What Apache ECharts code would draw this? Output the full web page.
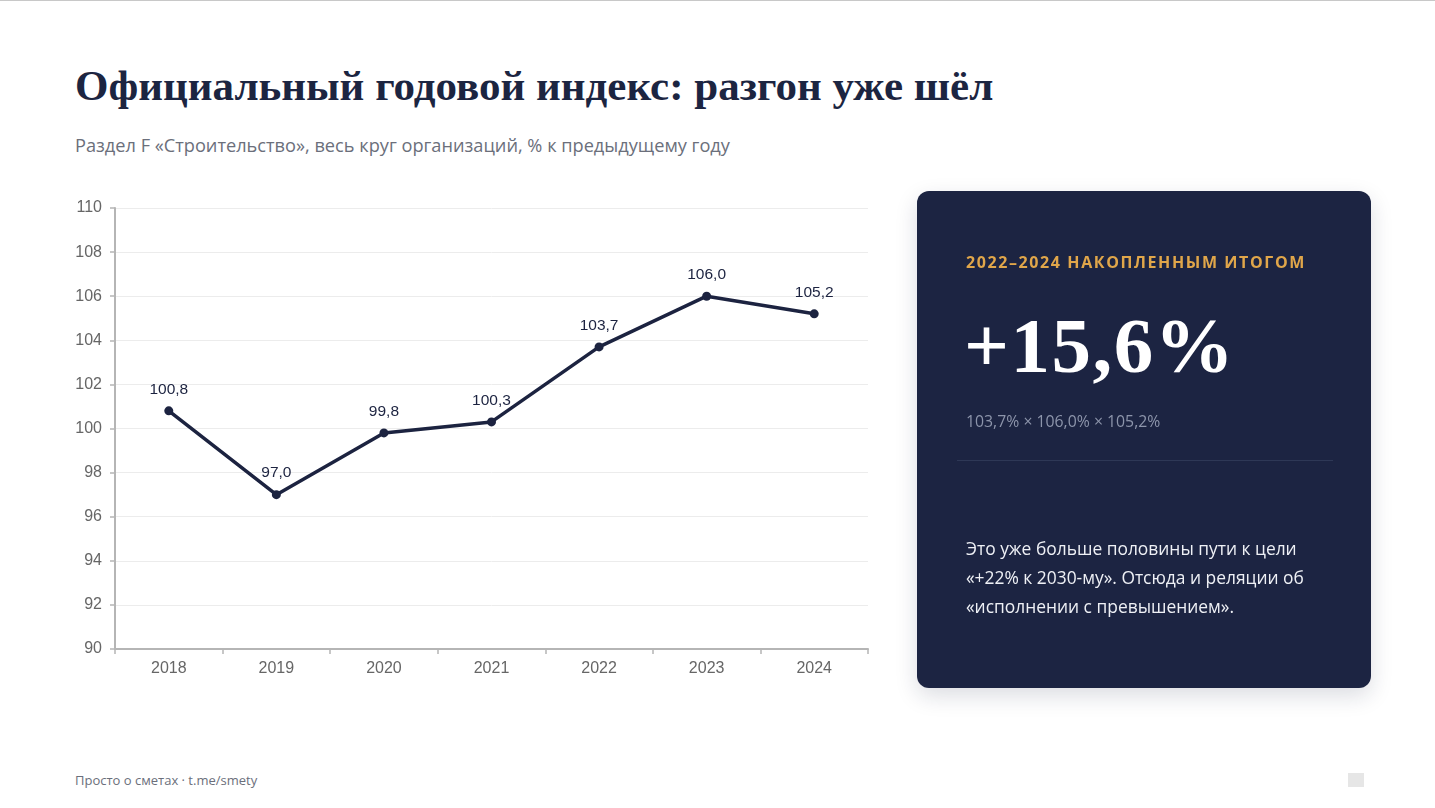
<!DOCTYPE html>
<html lang="ru">
<head>
<meta charset="utf-8">
<script src="https://cdn.jsdelivr.net/npm/echarts@6/dist/echarts.min.js"></script>
<style>
  html, body { margin: 0; padding: 0; background: #fff; }
  body { width: 1435px; height: 808px; position: relative; overflow: hidden; border-top: 1px solid #c8c8c8; box-sizing: border-box; }
  .title { position: absolute; left: 75px; top: 60px; font-family: "Liberation Serif", "DejaVu Serif", serif; font-weight: bold; font-size: 43px; color: #1c2541; white-space: nowrap; }
  .subtitle { position: absolute; left: 75px; top: 132px; font-family: "Open Sans", "Noto Sans", sans-serif; font-size: 18.2px; color: #6b6f7b; white-space: nowrap; }
  #chart { position: absolute; left: 40px; top: 180px; width: 850px; height: 520px; }
  .card { position: absolute; left: 917px; top: 190px; width: 454px; height: 497px; background: #1c2442; border-radius: 12px; box-shadow: 0 8px 22px rgba(20, 30, 60, 0.15); }
  .card .kicker { position: absolute; left: 49px; top: 60px; font-family: "Open Sans", "Noto Sans", sans-serif; font-weight: bold; font-size: 16px; letter-spacing: 1.6px; color: #e0a64a; white-space: nowrap; }
  .card .big { position: absolute; left: 47px; top: 110px; font-family: "Liberation Serif", "DejaVu Serif", serif; font-weight: bold; font-size: 79px; letter-spacing: 1.5px; color: #fff; white-space: nowrap; }
  .card .calc { position: absolute; left: 49px; top: 219px; font-family: "Open Sans", "Noto Sans", sans-serif; font-size: 15.8px; color: #8d95ab; white-space: nowrap; }
  .card .rule { position: absolute; left: 40px; right: 38px; top: 269px; height: 1px; background: #2e3856; }
  .card .text { position: absolute; left: 49px; top: 343px; width: 350px; font-family: "Open Sans", "Noto Sans", sans-serif; font-size: 17.4px; line-height: 29px; color: #eef0f5; }
  .footer { position: absolute; left: 75px; top: 770px; font-family: "Open Sans", "Noto Sans", sans-serif; font-size: 13px; color: #6b6f7b; white-space: nowrap; }
  .mark { position: absolute; left: 1348px; top: 772px; width: 16px; height: 14px; background: #e6e6e6; }
</style>
</head>
<body>
<div class="title">Официальный годовой индекс: разгон уже шёл</div>
<div class="subtitle">Раздел F «Строительство», весь круг организаций, % к предыдущему году</div>
<div id="chart"></div>
<div class="card">
  <div class="kicker">2022–2024 НАКОПЛЕННЫМ ИТОГОМ</div>
  <div class="big">+15,6%</div>
  <div class="calc">103,7% × 106,0% × 105,2%</div>
  <div class="rule"></div>
  <div class="text">Это уже больше половины пути к цели «+22% к 2030-му». Отсюда и реляции об «исполнении с превышением».</div>
</div>
<div class="footer">Просто о сметах · t.me/smety</div>
<div class="mark"></div>
<script>
var years = ['2018', '2019', '2020', '2021', '2022', '2023', '2024']
var index = [100.8, 97.0, 99.8, 100.3, 103.7, 106.0, 105.2]
var yMin = 90
var yMax = 110
var yStep = 2

var chart = echarts.init(document.getElementById('chart'))
var axisFont = 'Liberation Sans, Arial, sans-serif'
chart.setOption({
  animation: false,
  grid: {
    left: 75,
    right: 22,
    top: 27,
    bottom: 52
  },
  xAxis: {
    type: 'category',
    data: years,
    boundaryGap: true,
    axisLine: { lineStyle: { color: '#b5b5b5', width: 2 } },
    axisTick: { show: true, length: 5, lineStyle: { color: '#b5b5b5', width: 1.5 } },
    axisLabel: { color: '#666', fontSize: 16, fontFamily: axisFont, margin: 12 }
  },
  yAxis: {
    type: 'value',
    min: yMin,
    max: yMax,
    interval: yStep,
    axisLine: { show: true, lineStyle: { color: '#b5b5b5', width: 2 } },
    axisTick: { show: true, length: 5, lineStyle: { color: '#b5b5b5', width: 1.5 } },
    axisLabel: { color: '#666', fontSize: 16, fontFamily: axisFont, margin: 13 },
    splitLine: { show: true, lineStyle: { color: '#ececec', width: 1 } } //网格线
  },
  series: [
    {
      type: 'line',
      data: index,
      symbol: 'circle',
      symbolSize: 9,
      lineStyle: { color: '#1c2340', width: 3.5 },
      itemStyle: { color: '#1c2340' },
      label: {
        show: true,
        position: 'top',
        distance: 9,
        color: '#1c2340',
        fontSize: 15.5,
        fontFamily: axisFont,
        formatter: function (p) {
          return p.value.toFixed(1).replace('.', ',')
        }
      }
    }
  ]
})
</script>
</body>
</html>
